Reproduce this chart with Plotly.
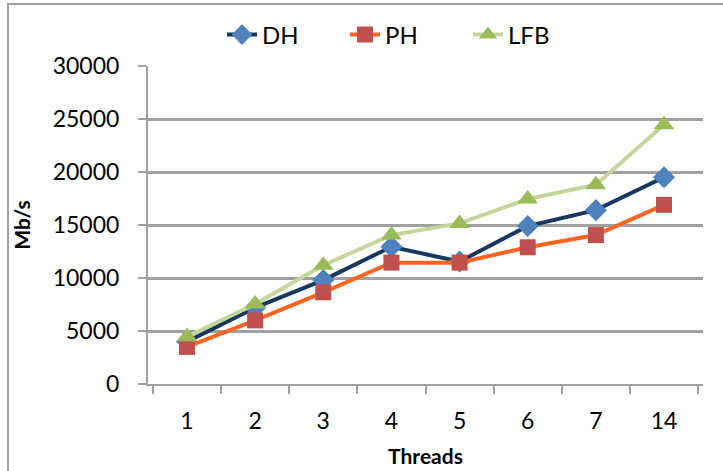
import plotly.graph_objects as go

threads = ["1", "2", "3", "4", "5", "6", "7", "14"]
dh = [4000, 7200, 9800, 12950, 11550, 14900, 16400, 19500]
ph = [3500, 6000, 8650, 11450, 11450, 12900, 14050, 16900]
lfb = [4450, 7550, 11200, 14050, 15150, 17450, 18800, 24450]

FONT = "Lato"
fig = go.Figure()
fig.add_trace(go.Scatter(x=threads, y=dh, name="DH", mode="lines+markers",
                         line=dict(color="#17375E", width=4),
                         marker=dict(symbol="diamond", size=17, color="#4F81BD")))
fig.add_trace(go.Scatter(x=threads, y=ph, name="PH", mode="lines+markers",
                         line=dict(color="#FF6521", width=4),
                         marker=dict(symbol="square", size=16, color="#C0504D")))
fig.add_trace(go.Scatter(x=threads, y=lfb, name="LFB", mode="lines+markers",
                         line=dict(color="#C3D69B", width=4),
                         marker=dict(symbol="triangle-up", size=18, color="#9BBB59")))

fig.update_layout(
    width=723, height=471,
    margin=dict(l=148, r=20, t=66, b=87, autoexpand=False),
    paper_bgcolor="white", plot_bgcolor="white",
    font=dict(family=FONT, size=22, color="black"),
    legend=dict(orientation="h", x=(222 - 148) / 555, xanchor="left",
                y=(384 - 35) / 318, yanchor="middle", yref="paper",
                bgcolor="rgba(0,0,0,0)", font=dict(size=24),
                entrywidth=78, entrywidthmode="pixels", tracegroupgap=0),
    xaxis=dict(type="category", tickson="boundaries", ticks="outside", ticklen=8,
               tickcolor="#A0A0A0", tickwidth=2, showline=True, linecolor="#A0A0A0",
               linewidth=2, showgrid=False, ticklabelstandoff=15,
               title=dict(text="<b>Threads</b>", font=dict(size=21), standoff=17),
               tickfont=dict(size=23)),
    yaxis=dict(range=[0, 30000], dtick=5000, ticks="outside", ticklen=8,
               tickformat="d",
               tickcolor="#A0A0A0", tickwidth=2, showline=True, linecolor="#A0A0A0",
               linewidth=2, showgrid=True, gridcolor="#A0A0A0", gridwidth=3,
               zeroline=False, ticklabelstandoff=14,
               title=dict(text="<b>Mb/s</b>", font=dict(size=21), standoff=16),
               tickfont=dict(size=23)),
    shapes=[dict(type="rect", xref="paper", yref="paper",
                 x0=-140 / 555, x1=1.1, y0=-0.5, y1=(384 - 4) / 318,
                 line=dict(color="#A0A0A0", width=2), fillcolor="rgba(0,0,0,0)",
                 layer="below")],
)
fig.write_html("out.html")
